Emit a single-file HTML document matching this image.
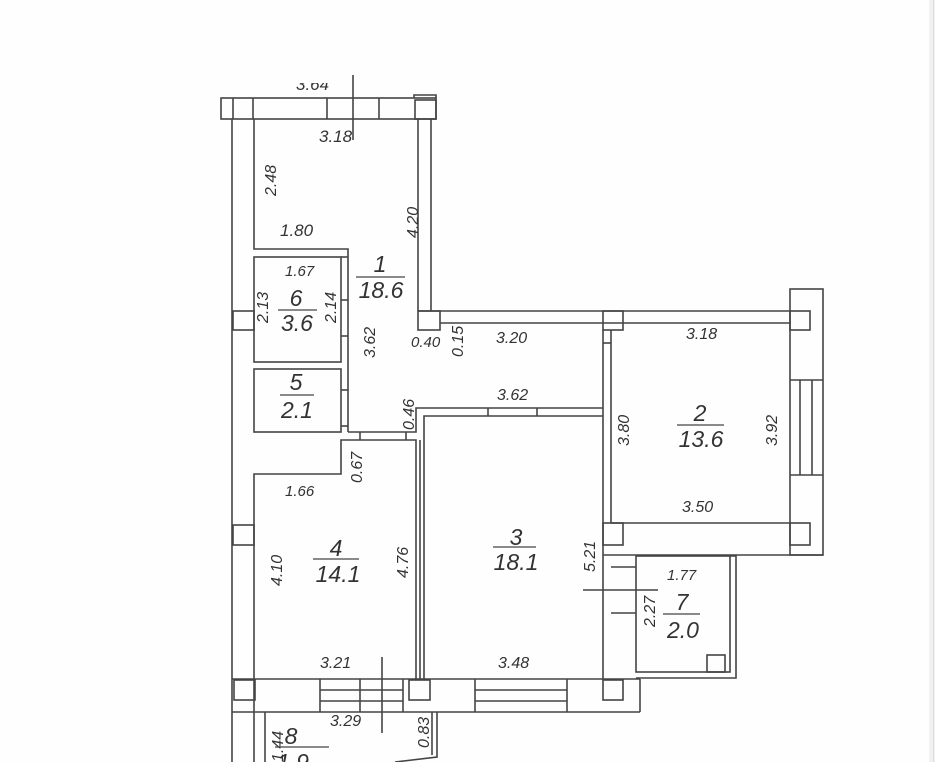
<!DOCTYPE html>
<html><head><meta charset="utf-8"><style>
html,body{margin:0;padding:0;background:#fff;}
svg{display:block}
text{font-family:"Liberation Sans",sans-serif;font-style:italic;fill:#333;}
</style></head><body>
<svg width="935" height="762" viewBox="0 0 935 762" xmlns="http://www.w3.org/2000/svg">
<defs><clipPath id="cl"><rect x="280" y="83" width="80" height="15"/></clipPath></defs>
<rect x="0" y="0" width="935" height="762" fill="#fefefe"/>
<rect x="929" y="0" width="6" height="762" fill="#f1f1f1"/>
<line x1="933.5" y1="0" x2="933.5" y2="762" stroke="#ddd" stroke-width="1"/>
<text x="296" y="90" font-size="17" clip-path="url(#cl)">3.64</text>
<g fill="none" stroke="#444" stroke-width="1.6">
<rect x="221" y="98" width="215" height="21"/>
<line x1="233" y1="98" x2="233" y2="119"/>
<line x1="253" y1="98" x2="253" y2="119"/>
<line x1="327" y1="98" x2="327" y2="119"/>
<line x1="379" y1="98" x2="379" y2="119"/>
<rect x="415" y="100" width="21" height="19"/>
<polyline points="414,98 414,95 436,95 436,98"/>
<line x1="353" y1="75" x2="353" y2="140"/>
<line x1="232" y1="119" x2="232" y2="762"/>
<polyline points="254,119 254,249 348,249 348,432"/>
<line x1="418" y1="119" x2="418" y2="311"/>
<line x1="431" y1="119" x2="431" y2="311"/>
<line x1="418" y1="311" x2="790" y2="311"/>
<line x1="440" y1="323" x2="790" y2="323"/>
<rect x="418" y="311" width="22" height="19"/>
<rect x="603" y="311" width="20" height="19"/>
<rect x="790" y="311" width="20" height="19"/>
<rect x="790" y="289" width="33" height="266"/>
<line x1="790" y1="380" x2="823" y2="380"/>
<line x1="790" y1="475" x2="823" y2="475"/>
<line x1="800" y1="380" x2="800" y2="475"/>
<line x1="812" y1="380" x2="812" y2="475"/>
<line x1="603" y1="330" x2="603" y2="680"/>
<line x1="611" y1="330" x2="611" y2="523"/>
<line x1="603" y1="343" x2="611" y2="343"/>
<line x1="611" y1="523" x2="790" y2="523"/>
<line x1="603" y1="555" x2="823" y2="555"/>
<rect x="603" y="523" width="20" height="22"/>
<rect x="790" y="523" width="20" height="22"/>
<rect x="254" y="257" width="87" height="105"/>
<rect x="254" y="369" width="87" height="63"/>
<line x1="341" y1="257" x2="348" y2="257"/>
<line x1="341" y1="300" x2="348" y2="300"/>
<line x1="341" y1="336" x2="348" y2="336"/>
<line x1="341" y1="390" x2="348" y2="390"/>
<line x1="341" y1="426" x2="348" y2="426"/>
<rect x="233" y="311" width="21" height="19"/>
<polyline points="348,432 416,432 416,408 603,408"/>
<polyline points="424,680 424,416 603,416"/>
<line x1="488" y1="408" x2="488" y2="416"/>
<line x1="537" y1="408" x2="537" y2="416"/>
<polyline points="254,762 254,474 341,474 341,440 416,440 416,680"/>
<line x1="420" y1="440" x2="420" y2="680"/>
<line x1="360" y1="432" x2="360" y2="440"/>
<line x1="406" y1="432" x2="406" y2="440"/>
<rect x="233" y="525" width="21" height="20"/>
<line x1="232" y1="679" x2="640" y2="679"/>
<line x1="232" y1="712" x2="640" y2="712"/>
<line x1="640" y1="679" x2="640" y2="712"/>
<rect x="234" y="680" width="21" height="20"/>
<rect x="409" y="680" width="21" height="20"/>
<rect x="603" y="680" width="20" height="20"/>
<line x1="320" y1="679" x2="320" y2="712"/>
<line x1="403" y1="679" x2="403" y2="712"/>
<line x1="320" y1="690" x2="403" y2="690"/>
<line x1="320" y1="701" x2="403" y2="701"/>
<line x1="360" y1="679" x2="360" y2="712"/>
<line x1="475" y1="679" x2="475" y2="712"/>
<line x1="567" y1="679" x2="567" y2="712"/>
<line x1="475" y1="690" x2="567" y2="690"/>
<line x1="475" y1="701" x2="567" y2="701"/>
<line x1="382" y1="657" x2="382" y2="733"/>
<rect x="636" y="556" width="94" height="116"/>
<polyline points="730,556 736,556 736,678 636,678"/>
<rect x="707" y="655" width="18" height="17"/>
<line x1="611" y1="567" x2="636" y2="567"/>
<line x1="611" y1="613" x2="636" y2="613"/>
<line x1="583" y1="590" x2="658" y2="590"/>
<polyline points="265,762 265,712"/>
<polyline points="437,712 437,757 395,762"/>
<line x1="432" y1="712" x2="432" y2="755"/>
</g>
<g font-size="17">
<text x="319" y="142">3.18</text>
<text x="280" y="236">1.80</text>
<text x="285" y="276" font-size="15">1.67</text>
<text x="496" y="343" font-size="16">3.20</text>
<text x="686" y="339" font-size="16">3.18</text>
<text x="497" y="400" font-size="16">3.62</text>
<text x="682" y="512" font-size="16">3.50</text>
<text x="285" y="496" font-size="15">1.66</text>
<text x="320" y="668" font-size="16">3.21</text>
<text x="498" y="668" font-size="16">3.48</text>
<text x="667" y="580" font-size="15">1.77</text>
<text x="330" y="726" font-size="16">3.29</text>
<text x="411" y="347" font-size="15">0.40</text>
</g>
<g font-size="16">
<text transform="translate(276,196) rotate(-90)">2.48</text>
<text transform="translate(418,238) rotate(-90)">4.20</text>
<text transform="translate(268,323) rotate(-90)">2.13</text>
<text transform="translate(336,323) rotate(-90)">2.14</text>
<text transform="translate(375,358) rotate(-90)">3.62</text>
<text transform="translate(463,357) rotate(-90)">0.15</text>
<text transform="translate(414,430) rotate(-90)">0.46</text>
<text transform="translate(362,483) rotate(-90)">0.67</text>
<text transform="translate(282,586) rotate(-90)">4.10</text>
<text transform="translate(408,578) rotate(-90)">4.76</text>
<text transform="translate(629,446) rotate(-90)">3.80</text>
<text transform="translate(777,446) rotate(-90)">3.92</text>
<text transform="translate(595,572) rotate(-90)">5.21</text>
<text transform="translate(655,627) rotate(-90)">2.27</text>
<text transform="translate(283,762) rotate(-90)">1.44</text>
<text transform="translate(429,748) rotate(-90)">0.83</text>
</g>
<g font-size="23" text-anchor="middle">
<text x="380" y="272">1</text><line x1="356" y1="277" x2="405" y2="277" stroke="#444" stroke-width="1.3"/><text x="381" y="298">18.6</text>
<text x="296" y="306">6</text><line x1="278" y1="310" x2="317" y2="310" stroke="#444" stroke-width="1.3"/><text x="297" y="331">3.6</text>
<text x="296" y="390">5</text><line x1="280" y1="395" x2="314" y2="395" stroke="#444" stroke-width="1.3"/><text x="297" y="418">2.1</text>
<text x="700" y="421">2</text><line x1="677" y1="425" x2="724" y2="425" stroke="#444" stroke-width="1.3"/><text x="701" y="447">13.6</text>
<text x="516" y="545">3</text><line x1="493" y1="547" x2="536" y2="547" stroke="#444" stroke-width="1.3"/><text x="516" y="570">18.1</text>
<text x="336" y="556">4</text><line x1="313" y1="559" x2="359" y2="559" stroke="#444" stroke-width="1.3"/><text x="338" y="582">14.1</text>
<text x="682" y="610">7</text><line x1="663" y1="614" x2="700" y2="614" stroke="#444" stroke-width="1.3"/><text x="683" y="638">2.0</text>
<text x="291" y="744">8</text><line x1="275" y1="747" x2="329" y2="747" stroke="#444" stroke-width="1.3"/><text x="293" y="770">1.9</text>
</g>
</svg>
</body></html>
